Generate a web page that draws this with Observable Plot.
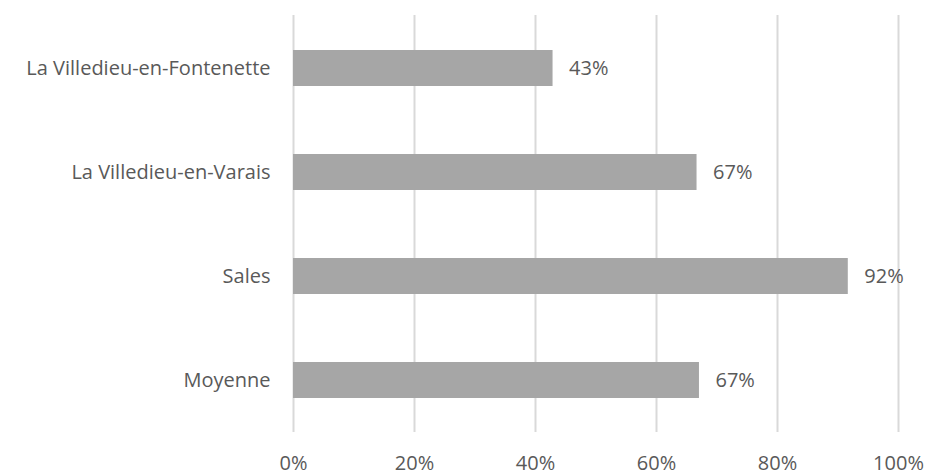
<!DOCTYPE html>
<html>
<head>
<meta charset="utf-8">
<script src="https://cdn.jsdelivr.net/npm/d3@7"></script>
<script src="https://cdn.jsdelivr.net/npm/@observablehq/plot@0.6"></script>
<style>
  html, body { margin: 0; padding: 0; background: #fff; }
  svg { display: block; }
</style>
</head>
<body>
<div id="chart"></div>
<script>
const categories = ["La Villedieu-en-Fontenette", "La Villedieu-en-Varais", "Sales", "Moyenne"];
const values = [0.429, 0.667, 0.917, 0.671];
const valueLabels = ["43%", "67%", "92%", "67%"];
const xTicks = [0, 0.2, 0.4, 0.6, 0.8, 1.0];
const xTickLabels = ["0%", "20%", "40%", "60%", "80%", "100%"];

const data = categories.map((c, i) => ({cat: c, v: values[i], label: valueLabels[i]}));

const font = "Open Sans, sans-serif";
const fs = 20;
const chart = Plot.plot({
  width: 929,
  height: 475,
  marginLeft: 293,
  marginRight: 31,
  marginTop: 15,
  marginBottom: 43,
  style: {fontFamily: font, fontSize: fs + "px", color: "#595959", background: "#fff"},
  x: {domain: [0, 1], label: null},
  y: {domain: categories, paddingInner: 0.655, paddingOuter: 0.327, label: null},
  marks: [
    Plot.ruleX(xTicks, {stroke: "#d9d9d9", strokeWidth: 2}),
    Plot.barX(data, {x: "v", y: "cat", fill: "#a6a6a6"}),
    Plot.text(data, {x: "v", y: "cat", text: "label", textAnchor: "start", dx: 16, fill: "#595959", fontSize: fs}),
    Plot.axisY({tickSize: 0, tickPadding: 23, fontSize: fs, fill: "#595959", label: null}),
    Plot.axisX({ticks: xTicks, tickFormat: d => xTickLabels[xTicks.indexOf(d)], tickSize: 0, tickPadding: 23, fontSize: fs, fill: "#595959", label: null})
  ]
});
document.getElementById("chart").appendChild(chart);
</script>
</body>
</html>
